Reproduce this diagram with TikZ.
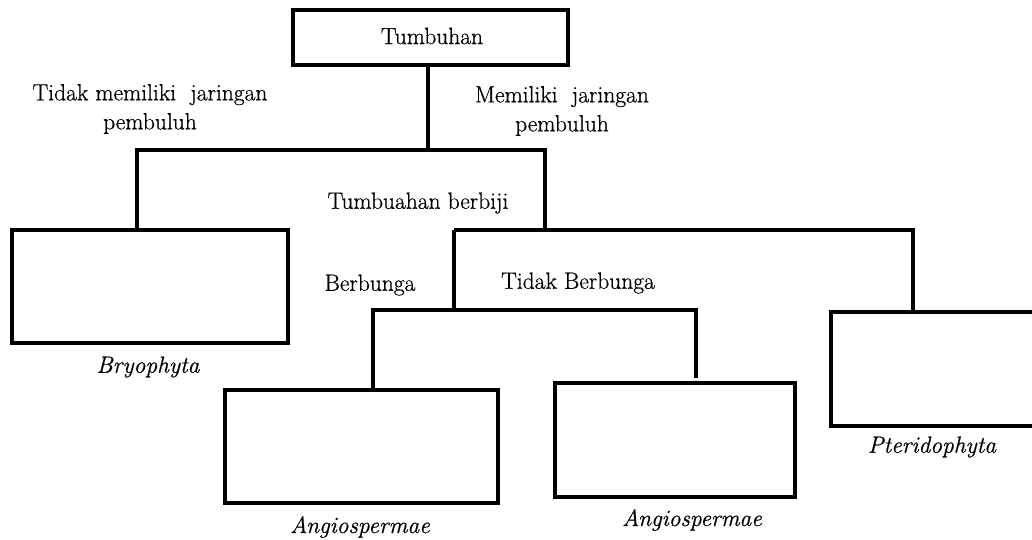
\documentclass[tikz,border=0pt]{standalone}
\usepackage{fontspec}
\newfontfamily\labelfont{Latin Modern Roman}[FakeBold=0.6]
\usepackage{tikz}

\begin{document}
\begin{tikzpicture}[x=1pt,y=-1pt,
  box/.style={draw,line width=4pt,inner sep=0pt,outer sep=0pt},
  link/.style={line width=3.5pt},
  lbl/.style={inner sep=0pt,align=center,font=\labelfont\fontsize{23.5}{29}\selectfont},
  sciname/.style={lbl,font=\labelfont\fontsize{23.5}{29}\selectfont\itshape}]
\useasboundingbox (0,0) rectangle (1032,540);
% boxes
\node[box,minimum width=275,minimum height=55] (root) at (430.5,37.5) {};
\node[lbl] at (432,36) {Tumbuhan};
\node[box,minimum width=276,minimum height=113] (bryo) at (150,286.5) {};
\node[box,minimum width=273,minimum height=113] (angioA) at (361.5,446.5) {};
\node[box,minimum width=240,minimum height=114] (angioB) at (675,440) {};
\node[box,minimum width=214,minimum height=114] (pterido) at (938,369) {};
% labels
\node[lbl] (noVasc) at (150,109) {Tidak memiliki\ \ jaringan\\pembuluh};
\node[lbl] (vasc) at (562,111) {Memiliki\ \ jaringan\\pembuluh};
\node[lbl] (seed) at (418,203) {Tumbuahan berbiji};
\node[lbl] (flower) at (370,285) {Berbunga};
\node[lbl] (noFlower) at (578,283) {Tidak Berbunga};
\node[sciname] (capBryo) at (148,367) {Bryophyta};
\node[sciname] (capAngioA) at (360,527) {Angiospermae};
\node[sciname] (capAngioB) at (692,520) {Angiospermae};
\node[sciname] (capPterido) at (932,447) {Pteridophyta};
% connectors
\coordinate (top) at (428,150);
\coordinate (barL) at (137,150);
\coordinate (barR) at (545,150);
\coordinate (seedL) at (454,230);
\coordinate (seedR) at (913,230);
\coordinate (flowL) at (373,310);
\coordinate (flowR) at (696,310);
\draw[link] (root.south -| top) -- (top);
\draw[link] (barL |- bryo.north) -- (barL) -- (barR) -- (barR |- seedL);
\draw[link] (seedL) -- (seedR) -- (seedR |- pterido.north);
\draw[link] (seedL) -- (seedL |- flowL);
\draw[link] (flowL |- angioA.north) -- (flowL) -- (flowR) -- ([yshift=5pt]flowR |- angioB.north);
\end{tikzpicture}
\end{document}
